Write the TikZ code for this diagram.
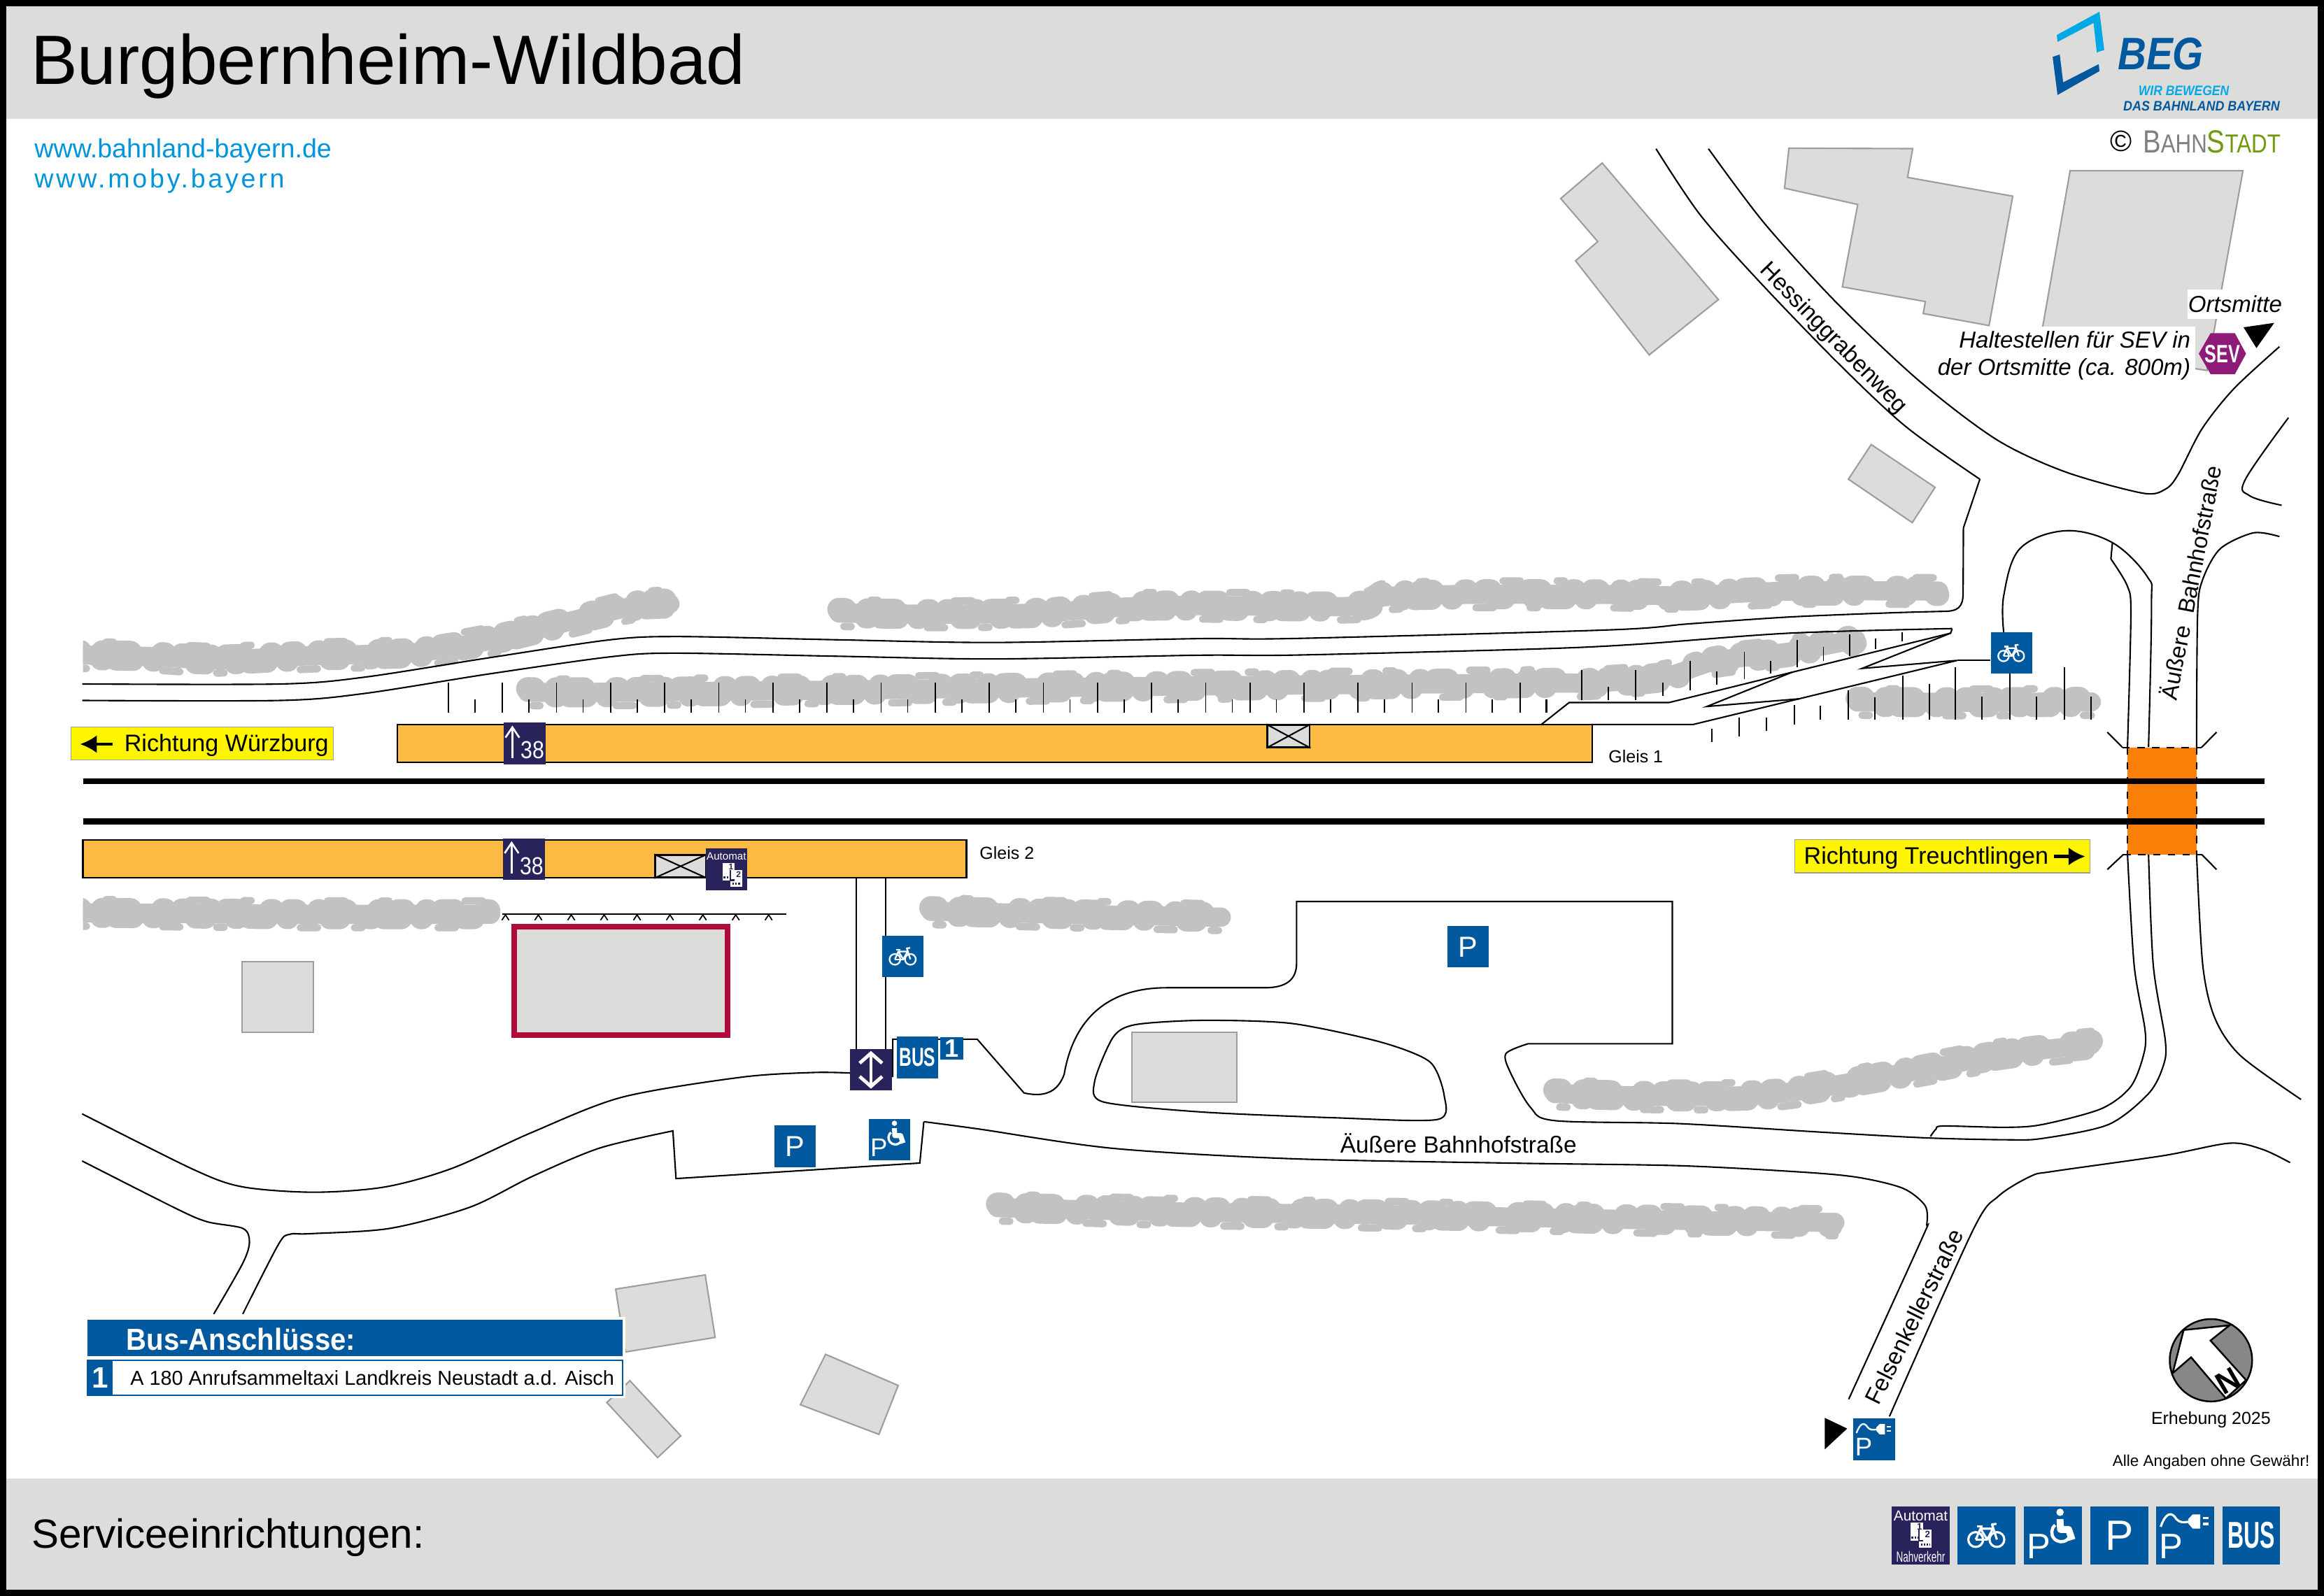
\documentclass[tikz,border=0pt]{standalone}
\usepackage{fontspec}
\setmainfont{Liberation Sans}
\usetikzlibrary{arrows,shapes,positioning}
\usetikzlibrary{arrows.meta}

\definecolor{signBlue}{HTML}{00589F}
\definecolor{signNavy}{HTML}{29235C}
\definecolor{logoLight}{HTML}{00A9E6}
\definecolor{urlBlue}{HTML}{0095DA}
\definecolor{bandGray}{HTML}{DCDCDA}
\definecolor{wallGray}{HTML}{9D9D9C}
\definecolor{hedgeGray}{HTML}{C2C2C0}
\definecolor{platOrange}{HTML}{FBBA42}
\definecolor{bridgeOrange}{HTML}{FA7F08}
\definecolor{dirYellow}{HTML}{FFF500}
\definecolor{stationRed}{HTML}{AE0B38}
\definecolor{sevPurple}{HTML}{8E1B77}
\definecolor{stadtGreen}{HTML}{6E9A0E}

\newcommand{\fs}[1]{\fontsize{#1}{#1}\selectfont}

\tikzstyle{road}=[draw=black, line width=0.6pt]
\tikzstyle{tick}=[draw=black, line width=0.5pt]
\tikzstyle{track}=[draw=black, line width=2.36pt]
\tikzstyle{building}=[fill=bandGray, draw=wallGray, line width=0.6pt]
\tikzstyle{platform}=[fill=platOrange, draw=black, line width=0.7pt]
\tikzstyle{hedgeCore}=[draw=hedgeGray, line cap=round, line join=round, line width=7.8pt]
\tikzstyle{hedgeBump}=[draw=hedgeGray, line cap=round, line width=9.4pt, dash pattern=on 2.5pt off 9pt on 0.4pt off 6pt on 5pt off 13pt on 1pt off 7pt]
\tikzstyle{hedgeBumpB}=[draw=hedgeGray, line cap=round, line width=9pt, dash pattern=on 4pt off 12pt on 1pt off 5pt on 7pt off 8pt on 0.5pt off 17pt, dash phase=5pt]
\tikzstyle{hedgeBumpC}=[draw=hedgeGray, line cap=round, line width=3pt, dash pattern=on 7pt off 15pt on 3pt off 31pt, dash phase=9pt]
\tikzstyle{blueSign}=[fill=signBlue, inner sep=0pt, minimum width=0.593cm, minimum height=0.593cm, text=white]
\tikzstyle{navySign}=[fill=signNavy, inner sep=0pt, minimum width=0.593cm, minimum height=0.593cm, text=white]
\tikzstyle{footSign}=[fill=signBlue, inner sep=0pt, minimum width=0.828cm, minimum height=0.824cm, text=white]
\tikzstyle{crossBox}=[fill=bandGray, draw=black, line width=0.7pt, inner sep=0pt]
\tikzstyle{dirLabel}=[fill=dirYellow, draw=wallGray, line width=0.4pt, inner sep=0pt, minimum height=0.472cm]
\tikzstyle{dirArrow}=[draw=black, line width=1.4pt, -{Latex[length=2.4mm,width=2.6mm]}]
\tikzstyle{streetName}=[font=\fs{9.5}, inner sep=0pt]
\tikzstyle{smallText}=[font=\fs{7.1}, inner sep=0pt]

% hedges are several passes over the same line
\newcommand{\hedgeline}[1]{
    \path[hedgeCore] plot[smooth, tension=0.5] coordinates {#1};
    \path[hedgeBump, shift={(0,-2.4)}] plot[smooth, tension=0.5] coordinates {#1};
    \path[hedgeBumpB, shift={(0,2.6)}] plot[smooth, tension=0.5] coordinates {#1};
    \path[hedgeBumpC, shift={(0,-9)}] plot[smooth, tension=0.5] coordinates {#1};
    \path[hedgeBumpC, shift={(0,9)}, dash phase=20pt] plot[smooth, tension=0.5] coordinates {#1};
}
\newcommand{\bikeicon}[3]{
    \begin{scope}[shift={(#1,#2)}, scale=#3, draw=white, line width=#3*0.9pt, line join=round]
        \draw (-7.4,2.8) circle (5);
        \draw (6.9,2.8) circle (5);
        \draw (-7.4,2.8) -- (-4.2,-4.5) -- (0.4,2.8) -- (4.2,-4.5) -- (-4.2,-4.5);
        \draw (-7.4,2.8) -- (0.4,2.8);
        \draw (6.9,2.8) -- (3.6,-7.4) -- (6.6,-7.8);
        \draw (-6.4,-6) -- (-2.6,-6);
    \end{scope}
}
\newcommand{\chairicon}[3]{
    \begin{scope}[shift={(#1,#2)}, scale=#3, draw=white]
        \fill[white] (4.7,-15.6) circle (2.5);
        \draw[line width=#3*2.8pt, line join=round] (4.7,-11) -- (5,-4) -- (10.5,-4) -- (12.8,3);
        \draw[line width=#3*1.3pt] (1.4,-7) arc[start angle=-130, end angle=-340, radius=6.4];
    \end{scope}
}
\newcommand{\plugicon}[3]{
    \begin{scope}[shift={(#1,#2)}, scale=#3, draw=white, line width=#3*0.9pt]
        \draw (-16.6,-5.8) .. controls (-13,-16) and (-9,-16) .. (-6,-11) .. controls (-4,-8.6) and (-1,-8.6) .. (2,-9.2);
        \fill[white] (10.1,-14.2) -- (5,-14.2) -- (2,-11) -- (2,-8) -- (5,-4.6) -- (10.1,-4.6) -- cycle;
        \fill[white] (11.9,-12.6) rectangle (15.6,-11);
        \fill[white] (11.9,-8.6) rectangle (15.6,-7);
    \end{scope}
}
\newcommand{\ticketicon}[5]{
    \begin{scope}[shift={(#1,#2)}, scale=#3]
        \fill[white] (-6.9,-8.7) rectangle (1.7,3.6);
        \fill[white] (-1.2,-3.8) rectangle (7.2,8.3);
        \draw[signNavy, line width=#3*0.7pt] (-1.2,-3.8) -- (-1.2,3.6) -- (1.7,3.6);
        \draw[signNavy, line width=#3*1pt, dash pattern=on 0.7pt off 0.5pt] (-6.2,1.4) -- (-2,1.4);
        \draw[signNavy, line width=#3*1pt, dash pattern=on 0.7pt off 0.5pt] (0,6.2) -- (6.4,6.2);
        \node[text=signNavy, inner sep=0pt, font=\bfseries\fs{#5}] (#4a) at (-0.8,-6) {1};
        \node[text=signNavy, inner sep=0pt, font=\bfseries\fs{#5}] (#4b) at (4.6,-0.8) {2};
    \end{scope}
}

\begin{document}
\begin{tikzpicture}[x=0.021186cm, y=-0.021186cm]
    \useasboundingbox (0,0) rectangle (1568,1077.1);

    % Bands
    \fill[bandGray] (0,0) rectangle (1568,80);
    \fill[bandGray] (0,997.8) rectangle (1568,1077.1);

    % Hedges
    \begin{scope}
    \clip (56,81) rectangle (1568,997);
    \hedgeline{(50,442) (96.9,442.9) (146.5,445.2) (212.8,442.4) (279,440.5) (328.7,432.6) (378.3,420.8) (428,409) (452,407.5)}
    \hedgeline{(566,413.7) (627.5,414.5) (699.8,413.7) (772,409) (844.2,409) (916.5,409) (934.5,402.7) (988.7,401.2) (1085.5,401.2) (1139.8,402) (1207.3,398.9) (1308,398.9)}
    \hedgeline{(356,467.2) (411.4,467.2) (566.4,465.7) (800,463) (1038.4,461) (1072,461) (1122.9,456.8) (1156.6,446.3) (1207.3,440) (1252,431.5)}
    \hedgeline{(1253,473.7) (1330,474) (1411,473.7)}
    \hedgeline{(50,616) (200,617) (331,617)}
    \hedgeline{(628,615) (720,617) (824,619)}
    \hedgeline{(1049,738) (1130,740) (1200,738) (1280,725) (1350,712) (1411,705)}
    \hedgeline{(673,815) (800,818) (950,820) (1100,823) (1238,825)}
    \end{scope}

    % Buildings
    \draw[building] (1081,110) -- (1159.4,202.2) -- (1112.7,239.5) -- (1063,176) -- (1078,163) -- (1053,134) -- cycle;
    \draw[building] (1207,100) -- (1290.5,100.3) -- (1287,119.7) -- (1358,132.4) -- (1342,219.7) -- (1297.6,211.6) -- (1299,203.5) -- (1243,193.6) -- (1253.4,138) -- (1204,127) -- cycle;
    \draw[building] (1396.7,115.2) -- (1513.3,115.2) -- (1489,250) -- (1376,233) -- cycle;
    \draw[building] (1262.5,300) -- (1305.6,328.9) -- (1290.2,352.7) -- (1247.1,323.4) -- cycle;
    \draw[building] (163.5,649) rectangle (211.5,696.5);
    \draw[building] (763.8,696.5) rectangle (834.5,743.8);
    \draw[building] (415.4,870) -- (475.8,860.4) -- (482.5,902.6) -- (422,912.4) -- cycle;
    \draw[building] (557,914) -- (606,935) -- (593,968) -- (540,948) -- cycle;
    \draw[building] (425,931.8) -- (459.3,969) -- (443.7,983.7) -- (409.4,946.5) -- cycle;
    \draw[fill=bandGray, draw=stationRed, line width=2.4pt] (347,625.5) rectangle (491,698.5);

    % Roads
    \draw[road] plot[smooth, tension=0.5] coordinates {(55.5,461.6) (189.6,461.6) (245.9,457) (328.7,444.1) (411.4,431.8) (457.8,429.6) (566.4,431.8) (670.9,433.6) (808.1,431) (873.1,430.9) (1085.5,425.1) (1139.8,421) (1207,416.4) (1274.9,413.6) (1311,412.6)}
        .. controls (1321,412.6) and (1324.5,410) .. (1324.5,400) -- (1324.7,356.3) -- (1335.8,323.4);
    \draw[road] plot[smooth, tension=0.5] coordinates {(55.5,472.7) (189.6,472.7) (245.9,468) (328.7,455) (411.4,443.3) (454.5,440.8) (566.4,442.9) (670.9,444.7) (808.1,442.2) (873.1,442.1) (1038.4,437.9) (1106,434.7) (1207.3,427.3) (1317.1,424.2)};
    \draw[road] plot[smooth, tension=0.5] coordinates {(1117.3,100.4) (1147.1,145) (1187.1,190.1) (1239.4,244.3) (1285.6,287.7) (1335.8,323.4)};
    \draw[road] plot[smooth, tension=0.5] coordinates {(1152.7,100.4) (1190.2,150.4) (1239.4,204.6) (1294.8,257) (1347.1,296.7) (1393.3,318.4) (1445.6,332.8) (1461,330.1) (1469.6,320.2) (1485.6,289.5) (1507.1,262.4) (1537.9,234)};
    \draw[road] plot[smooth, tension=0.6] coordinates {(1544,281.9) (1514.8,323.8) (1517.9,334.6) (1539.4,341)};
    \draw[road] plot[smooth, tension=0.5] coordinates {(1482,504.2) (1482.7,414.7) (1486,391.5) (1497.9,370.4) (1520.4,359.6) (1537.9,362.1)};
    \draw[road] plot[smooth, tension=0.6] coordinates {(1351.9,426.7) (1351.9,402) (1362.7,370.4) (1393.1,358.2) (1425.2,366.2) (1448.9,389.4) (1451.6,408.4) (1449.6,504.2)};
    \draw[road] (1425.2,366.6) -- (1424.2,377.2) plot[smooth, tension=0.5] coordinates {(1424.2,377.2) (1435.4,395.7) (1437.7,414.7) (1435.4,504.2)};
    \draw[road] plot[smooth, tension=0.5] coordinates {(1435.4,576.3) (1439.9,651.4) (1447.3,695.6) (1446.1,712.5) (1437.4,733.6) (1417.6,748.3) (1378,758.9) (1353.3,760.8) (1311.2,759.9) (1306.2,762) (1302.5,766.9)};
    \draw[road] plot[smooth, tension=0.5] coordinates {(1449.6,576.3) (1452.8,651.4) (1460.9,702) (1459.7,718.8) (1449.8,737.8) (1422.6,758.9) (1378,768.3) (1353.3,769.2) (1298.8,767.9) (1229.5,764.1) (1132.8,758.3) (1049.1,756.3) (1032.6,747.3) (1019,723.7) (1016,711.1) (1031,704.4)}
        -- (1128.3,704.4) -- (1128.3,608.4) -- (874.8,608.4) -- (874.8,650)
        .. controls (874.8,661) and (868,666.6) .. (853.4,666.6) -- (787.2,666.6)
        .. controls (745,666.6) and (724,690) .. (718,725)
        .. controls (714,736) and (706,741) .. (690.9,737.6)
        -- (659.3,701.3) -- (602.3,701.3) -- (602.3,726.9);
    \draw[road] plot[smooth, tension=0.5] coordinates {(1482,576.3) (1486.2,651.4) (1494.4,687.2) (1511.7,712.5) (1552.5,742)};
    \draw[road] plot[smooth cycle, tension=0.45] coordinates {(744.5,743.7) (738.5,730) (751,700) (766,691.5) (811.3,688.6) (871.5,690.7) (931.7,703.3) (964.8,716.7) (974.4,739.5) (969.9,755.5) (901.6,754.4) (811.3,750.5)};
    \draw[road] plot[smooth, tension=0.5] coordinates {(574.5,724.2) (548.8,723.8) (500,727) (419.6,740.5) (359.4,764) (305.2,788.4) (260,801) (211.9,804.6) (163.8,801) (130.6,789.3) (55.4,751.7)};
    \draw[road] plot[smooth, tension=0.5] coordinates {(55.4,783.5) (118.6,815.5) (139.7,824.5) (163.8,829) (168.3,838) (163.8,852.5) (144.2,886.8)};
    \draw[road] plot[smooth, tension=0.5] coordinates {(163.8,886.8) (187.8,839.9) (195.4,833) (208.9,832.6) (263.1,829) (317.3,814.6) (359.4,793.8) (404.6,774.8) (454,763.2)}
        -- (456.1,795.4) -- (620.6,784.9) -- (623.3,757);
    \draw[road] plot[smooth, tension=0.5] coordinates {(623.3,757) (660.8,762) (751,775) (871.5,782) (1022,785) (1132.8,786.7) (1217.1,791.1) (1254.3,794.7) (1284,802) (1298.8,813.6) (1300,826.3) (1296.3,836.8) (1247.3,944.3)};
    \draw[road] plot[smooth, tension=0.5] coordinates {(1274.8,955.9) (1331,830.5) (1348.3,807.3) (1370.6,793.6) (1385.4,790.5) (1459.7,779.9) (1504.3,771.5) (1526.5,775.7) (1545.1,784.6)};
    \draw[road] (577.8,592.3) -- (577.8,708);
    \draw[road] (597.6,592.3) -- (597.6,708);

    % Ramp to platform 1
    \draw[road] (1040,488.9) -- (1058.7,474.1) -- (1126.2,474.1) -- (1316.1,427.3) -- (1317.1,424.2);
    \draw[road] (1209,453.7) -- (1151.6,476.8) -- (1214.1,471.6);
    \draw[road] (1316.1,427.3) -- (1256.3,451.1) -- (1320.5,445.7) -- (1142.5,488.9) -- (1074,488.9);

    % Ticks
    \foreach \x in {302.5,339,...,815}
        \draw[tick] (\x,460.6) -- (\x,481.1);
    \foreach \x in {843.5,879.9,...,1026}
        \draw[tick] (\x,460.6) -- (\x,481.1);
    \foreach \x in {320.4,356.9,...,832}
        \draw[tick] (\x,472) -- (\x,481.1);
    \foreach \x in {861.2,897.6,...,1044}
        \draw[tick] (\x,472) -- (\x,481.1);
    \foreach \x/\a/\b in {1043.5/472/481.1, 1067.1/452.2/472.6, 1085/463.6/472.6, 1103.6/452.2/472.6, 1121.8/460.6/469.5, 1140.4/445.9/465.9, 1158.3/453/462.1, 1176.9/440/458.3, 1194.8/445.9/454.7, 1212.4/432/450.5, 1230.3/436.8/445.9, 1247.9/428/442.5, 1265.4/430.9/437.9, 1283.3/426.7/433}
        \draw[tick] (\x,\a) -- (\x,\b);
    \foreach \x/\a/\b in {1155/491.6/500.6, 1173.5/484.2/496.9, 1191.8/484.2/493, 1210.7/475.8/489, 1228.3/476.4/485.7, 1247.2/465.7/485.7, 1264.8/470.5/485.7, 1283.7/455.8/485.7, 1301.6/461.7/485.7, 1319.1/450.5/485.7, 1337/469.9/485.7, 1356/454.7/485.7, 1373.9/469.9/485.7, 1392.8/450.5/485.7, 1410.7/469.9/485.7}
        \draw[tick] (\x,\a) -- (\x,\b);

    % Fence
    \draw[tick] (338.8,617) -- (530.4,617);
    \foreach \x in {341,363.2,...,520}
        \draw[tick] (\x-2.4,621) -- (\x,617.4) -- (\x+2.4,621);

    % Platforms
    \draw[platform] (268,489) rectangle (1074.2,514.6);
    \draw[platform] (56,566.9) rectangle (652,592.3);

    % Bridge and tracks
    \fill[bridgeOrange] (1435.4,504.4) rectangle (1482,576.6);
    \draw[road, dashed] (1435.4,504.4) -- (1435.4,576.6);
    \draw[road, dashed] (1482,504.4) -- (1482,576.6);
    \draw[road, dashed] (1432,504.4) -- (1485.4,504.4);
    \draw[road, dashed] (1432.7,576.6) -- (1485.4,576.6);
    \draw[road] (1421.8,494.1) -- (1432,504.4);
    \draw[road] (1485.4,504.4) -- (1495.5,494.1);
    \draw[road] (1421.8,586.8) -- (1432.7,576.6);
    \draw[road] (1485.4,576.6) -- (1495.5,586.8);
    \draw[track] (56,527.2) -- (1528,527.2);
    \draw[track] (56,554.3) -- (1528,554.3);

    % Boxes on the platforms
    \node[crossBox, minimum width=0.606cm, minimum height=0.316cm] (boxGleisA) at (869.3,496.8) {};
    \draw[black, line width=0.6pt] (boxGleisA.north west) -- (boxGleisA.south east);
    \draw[black, line width=0.6pt] (boxGleisA.north east) -- (boxGleisA.south west);
    \node[crossBox, minimum width=0.729cm, minimum height=0.318cm] (boxGleisB) at (459.2,584.6) {};
    \draw[black, line width=0.6pt] (boxGleisB.north west) -- (boxGleisB.south east);
    \draw[black, line width=0.6pt] (boxGleisB.north east) -- (boxGleisB.south west);

    % Platform labels
    \node[smallText, anchor=west] (labelGleisA) at (1085,510.5) {Gleis 1};
    \node[smallText, anchor=west] (labelGleisB) at (660.7,575.5) {Gleis 2};

    % Signs on the platforms
    \foreach \n/\x/\y in {a/354/501.8, b/353.5/579.8} {
        \node[navySign] (signWay\n) at (\x,\y) {};
        \draw[white, line width=0.75pt] (\x-8.3,\y+9.8) -- (\x-8.3,\y-10.5);
        \draw[white, line width=0.75pt, line join=miter] (\x-13,\y-4) -- (\x-8.3,\y-11) -- (\x-3.6,\y-4);
        \node[text=white, inner sep=0pt, font=\fs{10}] (labelWay\n) at (\x+5.2,\y+4.6) {\scalebox{.86}[1]{38}};
    }
    \node[navySign] (signAutomat) at (490.1,586.7) {};
    \node[text=white, inner sep=0pt, font=\fs{4.3}] (labelAutomat) at (490.1,578) {Automat};
    \ticketicon{494}{590.7}{0.93}{ticketA}{3.4}

    % Signs on the ground
    \node[blueSign] (signBikeA) at (609.2,645.4) {};
    \bikeicon{609.2}{645.4}{0.73}
    \node[blueSign] (signBikeB) at (1357.1,440.7) {};
    \bikeicon{1357.1}{440.7}{0.72}
    \draw[road] (1320.5,445.7) -- (signBikeB.west |- 1320.5,445.7);
    \node[navySign] (signStairs) at (587.6,721.9) {};
    \draw[white, line width=1.1pt] (587.6,711) -- (587.6,733);
    \draw[white, line width=1.4pt] (580,717.5) -- (587.6,710.8) -- (595.2,717.5);
    \draw[white, line width=1.4pt] (580,726.5) -- (587.6,733.2) -- (595.2,726.5);
    \node[blueSign, font=\bfseries\fs{10.6}] (signBus) at (618.9,713.7) {\scalebox{.66}[1]{BUS}};
    \node[fill=signBlue, inner sep=0pt, minimum width=0.333cm, minimum height=0.326cm, text=white, font=\bfseries\fs{10.3}] (signBusOne) at (642.2,707.5) {1};
    \node[blueSign, font=\fs{11.8}] (signParkA) at (536.4,773.6) {P};
    \node[blueSign, minimum height=0.59cm] (signParkB) at (600.1,769.3) {};
    \chairicon{600.1}{769.3}{0.72}
    \node[text=white, inner sep=0pt, font=\fs{10.4}] (labelParkB) at (593,774.6) {P};
    \node[blueSign, font=\fs{11.8}] (signParkC) at (990.6,639) {P};
    \node[blueSign] (signCharge) at (1264.5,971.3) {};
    \plugicon{1264.5}{971.3}{0.72}
    \node[text=white, inner sep=0pt, font=\fs{10.4}] (labelCharge) at (1257.5,976.3) {P};
    \fill[black] (1231.2,956.9) -- (1231.2,978.1) -- (1246.3,964.1) -- cycle;

    % Direction labels
    \node[dirLabel, minimum width=3.75cm] (dirWest) at (136.5,501.7) {};
    \node[font=\fs{9.7}, inner sep=0pt, anchor=west] (labelWest) at (83.6,503) {Richtung Würzburg};
    \coordinate (arrowWestA) at (76,502.2);
    \coordinate (arrowWestB) at (54,502.2);
    \draw[dirArrow] (arrowWestA) -- (arrowWestB);
    \node[dirLabel, minimum width=4.215cm] (dirEast) at (1310.5,577.9) {};
    \node[font=\fs{9.7}, inner sep=0pt, anchor=west] (labelEast) at (1216.8,579) {Richtung Treuchtlingen};
    \coordinate (arrowEastA) at (1385.7,578);
    \coordinate (arrowEastB) at (1407,578);
    \draw[dirArrow] (arrowEastA) -- (arrowEastB);

    % Street names
    \node[streetName, rotate=-45.7] (nameHessing) at (1236.8,228.5) {Hessinggrabenweg};
    \node[streetName, rotate=79, font=\fs{9.3}] (nameBahnhofA) at (1477.5,393) {Äußere\; Bahnhofstraße};
    \node[streetName] (nameBahnhofB) at (984,771.5) {Äußere Bahnhofstraße};
    \node[streetName, rotate=63.5] (nameFelsen) at (1291.5,888.5) {Felsenkellerstraße};

    % Bus panel
    \fill[white] (57,888.6) rectangle (422,943.6);
    \node[fill=signBlue, inner sep=0pt, minimum width=7.648cm, minimum height=0.517cm] (busHead) at (239.5,903) {};
    \node[text=white, inner sep=0pt, font=\bfseries\fs{12.4}, anchor=west] (labelBusHead) at (84.9,904) {\scalebox{.92}[1]{Bus-Anschlüsse:}};
    \node[fill=white, draw=signBlue, line width=0.4pt, inner sep=0pt, minimum width=7.648cm, minimum height=0.5cm] (busRow) at (239.5,929.8) {};
    \node[fill=signBlue, inner sep=0pt, minimum width=0.358cm, minimum height=0.5cm, text=white, font=\bfseries\fs{12}] (busRowOne) at (67.5,929.8) {1};
    \node[inner sep=0pt, font=\fs{8.2}, anchor=west] (labelBusRow) at (87.6,930) {A 180 Anrufsammeltaxi Landkreis Neustadt a.d. Aisch};

    % SEV
    \node[fill=white, inner sep=0pt, minimum width=1.356cm, minimum height=0.417cm, font=\itshape\fs{9.4}] (labelOrt) at (1508,205.4) {Ortsmitte};
    \node[fill=white, inner sep=2pt, anchor=north east, align=right, font=\itshape\fontsize{9.4}{10.9}\selectfont] (labelSev) at (1481.5,220) {Haltestellen für SEV in\\der Ortsmitte (ca. 800m)};
    \fill[sevPurple] (1483.5,238.7) -- (1491.5,224.8) -- (1507.8,224.8) -- (1515.4,238.7) -- (1507.8,252.6) -- (1491.5,252.6) -- cycle;
    \node[text=white, inner sep=0pt, font=\bfseries\fs{10.2}] (labelSevMark) at (1499.5,238.7) {\scalebox{.7}[1]{SEV}};
    \fill[black] (1513.7,220.9) -- (1534.4,217.9) -- (1522.4,234.9) -- cycle;

    % North arrow
    \draw[fill=black!47, draw=black, line width=0.7pt] (1491.7,918) circle (27.8);
    \draw[fill=white, draw=black, line width=0.7pt, line join=miter] (1504.3,894.4) -- (1491.4,904.7) -- (1515.4,931.4) -- (1501.8,943.7) -- (1478.3,916) -- (1465.9,926.7) -- (1473.3,897.6) -- cycle;
    \node[inner sep=0pt, rotate=30, font=\bfseries\fs{12.5}] (labelNorth) at (1503,932) {N};

    % Notes
    \node[smallText] (labelYear) at (1491.7,958.2) {Erhebung 2025};
    \node[font=\fs{6.4}, inner sep=0pt] (labelNote) at (1491.8,987) {Alle Angaben ohne Gewähr!};

    % Header
    \node[inner sep=0pt, anchor=west, font=\fs{28.4}] (labelTitle) at (20.5,44.5) {Burgbernheim-Wildbad};
    \node[inner sep=0pt, anchor=west, text=urlBlue, font=\fs{10.7}] (labelUrlA) at (23,102) {www.bahnland-bayern.de};
    \node[inner sep=0pt, anchor=west, text=urlBlue, font=\fs{10.7}\addfontfeatures{LetterSpace=10}] (labelUrlB) at (23,122) {www.moby.bayern};
    \fill[logoLight] (1387.7,23.6) -- (1416.5,7.9) -- (1419.7,33.7) -- (1414.7,35.4) -- (1412.5,15.5) -- (1388.2,28.3) -- cycle;
    \fill[signBlue] (1384.9,38.4) -- (1389.7,36.8) -- (1392,55.6) -- (1416,43.3) -- (1416.5,48) -- (1388.2,64.1) -- cycle;
    \node[inner sep=0pt, text=signBlue, anchor=west, font=\bfseries\itshape\fs{18.5}] (labelBeg) at (1428.5,36.5) {\scalebox{.87}[1]{BEG}};
    \node[inner sep=0pt, text=logoLight, anchor=west, font=\bfseries\itshape\fs{5.6}] (labelBegA) at (1442.5,61) {\scalebox{.89}[1]{WIR BEWEGEN}};
    \node[inner sep=0pt, text=signBlue, anchor=east, font=\bfseries\itshape\fs{5.6}] (labelBegB) at (1538.5,71.5) {\scalebox{.91}[1]{DAS BAHNLAND BAYERN}};
    \node[inner sep=0pt, anchor=west, font=\fs{12}] (labelCopy) at (1423.6,95.3) {©};
    \node[inner sep=0pt, anchor=west, text=black!50] (labelStadt) at (1445.5,95.5) {\scalebox{.84}[1]{\fs{13}B\fs{10.6}AHN\textcolor{stadtGreen}{\fs{13}S\fs{10.6}TADT}}};

    % Footer
    \node[inner sep=0pt, anchor=west, font=\fs{16.6}] (labelService) at (21,1037.5) {Serviceeinrichtungen:};
    \node[footSign, fill=signNavy] (footAutomat) at (1295.9,1036.2) {};
    \node[text=white, inner sep=0pt, font=\fs{5.9}] (labelFootA) at (1295.9,1023) {Automat};
    \node[text=white, inner sep=0pt, font=\fs{6}] (labelFootB) at (1295.9,1050.8) {\scalebox{.64}[1]{Nahverkehr}};
    \ticketicon{1295.9}{1036.2}{1}{ticketB}{3.8}
    \node[footSign] (footBike) at (1340.4,1036.2) {};
    \bikeicon{1340.4}{1036.2}{1}
    \node[footSign] (footChair) at (1385.2,1036.2) {};
    \chairicon{1385.2}{1036.2}{1}
    \node[text=white, inner sep=0pt, font=\fs{14.4}] (labelFootP) at (1375.5,1043.4) {P};
    \node[footSign, font=\fs{17.2}] (footPark) at (1429.8,1036.2) {P};
    \node[footSign] (footCharge) at (1474.4,1036.2) {};
    \plugicon{1474.4}{1036.2}{1}
    \node[text=white, inner sep=0pt, font=\fs{14.4}] (labelFootQ) at (1464.8,1043.4) {P};
    \node[footSign, font=\bfseries\fs{15.2}] (footBus) at (1518.9,1036.2) {\scalebox{.6}[1]{BUS}};

    % Frame
    \draw[black, line width=2.45pt] (2,2) rectangle (1566,1075.1);
\end{tikzpicture}
\end{document}
